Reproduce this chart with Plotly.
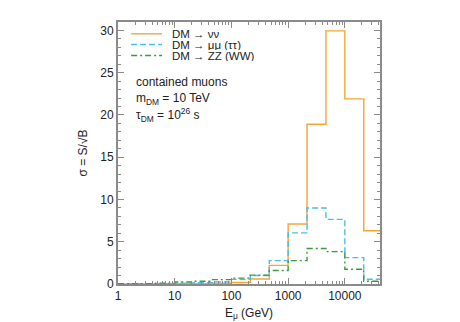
import plotly.graph_objects as go

# bin edges (GeV), log-spaced, 3 per decade
edges = [1, 2.154, 4.642, 10, 21.54, 46.42, 100, 215.4, 464.2, 1000, 2154, 4642, 10000, 21544, 46416]
# sigma = S/sqrt(B) per bin
nunu = [0.02, 0.02, 0.03, 0.04, 0.05, 0.08, 0.18, 0.6, 2.2, 7.1, 18.9, 29.95, 21.9, 6.3]
mumu = [0.02, 0.03, 0.05, 0.1, 0.15, 0.25, 0.55, 1.0, 2.77, 6.05, 9.0, 7.65, 3.12, 0.56]
zz = [0.03, 0.05, 0.1, 0.24, 0.32, 0.52, 0.7, 1.05, 1.6, 2.77, 4.2, 3.83, 1.74, 0.33]

names = ["DM → νν", "DM → μμ (ττ)", "DM → ZZ (WW)"]
colors = ["#f6a535", "#48bfec", "#3a9b3a"]
dashes = ["solid", "6px,3px", "6px,3px,2px,3px"]
series = [nunu, mumu, zz]

fig = go.Figure()
for vals, c, d, n in zip(series, colors, dashes, names):
    fig.add_trace(go.Scatter(x=edges, y=vals + [vals[-1]], mode="lines",
                             line=dict(color=c, width=1.4, dash=d, shape="hv"),
                             name=n, showlegend=False))

font = dict(family="Liberation Sans, Arial, sans-serif", size=12, color="#222")
legfont = dict(family="Liberation Sans, Arial, sans-serif", size=11.5, color="#222")
axcol = "#8a8a8a"

# manual legend
leg_y = [0.955, 0.914, 0.872]
for n, c, d, yy in zip(names, colors, dashes, leg_y):
    fig.add_shape(type="line", xref="paper", yref="paper", x0=0.05, x1=0.168, y0=yy, y1=yy,
                  line=dict(color=c, width=1.4, dash=d))
    fig.add_annotation(xref="paper", yref="paper", x=0.2, y=yy, text=n, showarrow=False,
                       xanchor="left", yanchor="middle", font=legfont, height=10,
                       valign="middle")

notes = ["contained muons", "m<sub>DM</sub> = 10 TeV", "τ<sub>DM</sub> = 10<sup>26</sup> s"]
note_y = [0.77, 0.708, 0.645]
for t, yy in zip(notes, note_y):
    fig.add_annotation(xref="paper", yref="paper", x=0.062, y=yy, text=t, showarrow=False,
                       xanchor="left", yanchor="middle", font=font)

fig.update_layout(
    width=460, height=322,
    margin=dict(l=110, r=88, t=12, b=46),
    paper_bgcolor="white", plot_bgcolor="white",
    font=font,
    showlegend=False,
)
fig.update_xaxes(type="log", range=[0, 4.62],
                 tickvals=[1, 10, 100, 1000, 10000], ticktext=["1", "10", "100", "1000", "10000"],
                 ticks="inside", ticklen=6, tickcolor=axcol, tickwidth=1,
                 minor=dict(ticks="inside", ticklen=3, tickcolor=axcol, dtick="D1", showgrid=False),
                 showline=True, linecolor=axcol, linewidth=2, mirror="ticks",
                 showgrid=False, zeroline=False,
                 title=dict(text="E<sub>μ</sub> (GeV)", font=font, standoff=6))
fig.update_yaxes(range=[0, 31], dtick=5,
                 ticks="inside", ticklen=6, tickcolor=axcol, tickwidth=1,
                 minor=dict(ticks="inside", ticklen=3, tickcolor=axcol, dtick=1, showgrid=False),
                 showline=True, linecolor=axcol, linewidth=2, mirror="ticks",
                 showgrid=False, zeroline=False,
                 title=dict(text="σ = S/√B", font=font, standoff=10))

fig.write_html("out.html")
